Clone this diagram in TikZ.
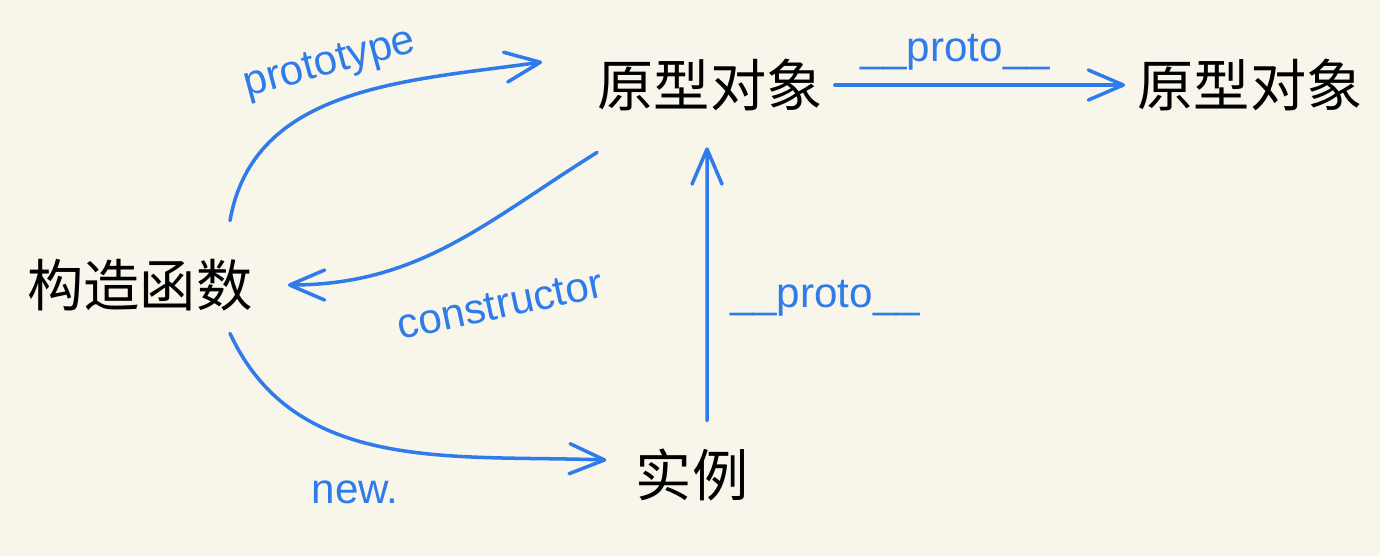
\documentclass[tikz,border=0pt]{standalone}
\usepackage{fontspec}
\setmainfont{Liberation Sans}
\newfontfamily\cjk{Noto Sans CJK SC}
\usetikzlibrary{arrows.meta}
\definecolor{pen}{RGB}{47,123,234}
\definecolor{paper}{RGB}{248,246,235}
\tikzstyle{word} = [font=\cjk\fontsize{16}{18}\selectfont, text=black]
\tikzstyle{tag} = [font=\fontsize{12}{14}\selectfont, text=pen]
\tikzstyle{line} = [draw=pen, line width=1pt, line cap=round,
    -{Straight Barb[length=3.5mm, width=3mm, round]}]

\begin{document}
\begin{tikzpicture}[node distance = 5.4cm, auto]
    \fill [paper] (0,0) rectangle (13.8,5.56);
    \useasboundingbox (0,0) rectangle (13.8,5.56);
    % Place nodes
    \node [word] (ctor) at (1.40,2.71) {构造函数};
    \node [word] (proto) at (7.10,4.71) {原型对象};
    \node [word, right of=proto] (proto2) {原型对象};
    \node [word] (inst) at (6.92,0.81) {实例};
    % Place labels
    \node [tag, rotate=15] (lproto) at (3.30,4.91) {prototype};
    \node [tag] (lchain) at (9.55,5.04) {\_\_proto\_\_};
    \node [tag, rotate=12] (lctor) at (5.00,2.51) {constructor};
    \node [tag] (linst) at (8.25,2.58) {\_\_proto\_\_};
    \node [tag] (lnew) at (3.55,0.64) {new.};
    % Draw edges
    \path [line] ([shift={(0.9,0.26)}]ctor.north) to[out=80, in=188]
        ([shift={(-0.43,0.23)}]proto.west);
    \path [line] (proto.east) -- (proto2.west);
    \path [line] ([shift={(0.12,-0.29)}]proto.south west) to[out=212, in=0]
        ([xshift=0.23cm]ctor.east);
    \path [line] ([shift={(0.15,0.16)}]inst.north) --
        ([shift={(-0.03,-0.24)}]proto.south);
    \path [line] ([shift={(0.9,-0.1)}]ctor.south) to[out=-65, in=178]
        ([shift={(-0.17,0.15)}]inst.west);

\end{tikzpicture}
\end{document}
